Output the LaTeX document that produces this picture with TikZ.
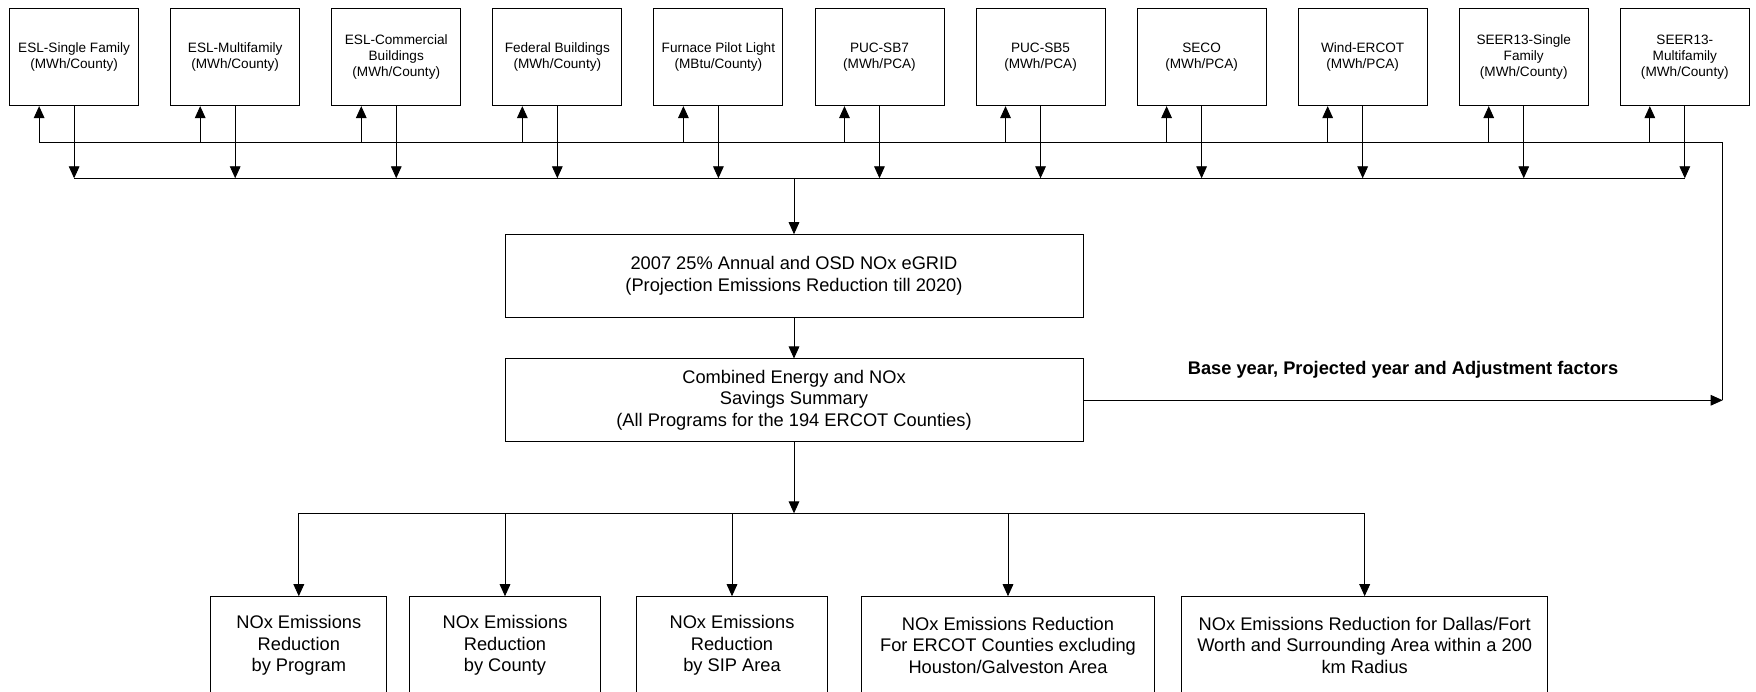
\documentclass[tikz,border=0pt]{standalone}
\usepackage{fontspec}
\setmainfont{Liberation Sans}
\usetikzlibrary{arrows.meta}

\begin{document}
\begin{tikzpicture}[->,>={Triangle[length=9pt,width=8pt]},line width=0.7pt,
  node distance=120.8pt,
  src node/.style={draw,minimum width=96.75pt,minimum height=73pt,align=center,
    font=\fontsize{10.2}{12}\selectfont},
  sum node/.style={draw,minimum width=433.5pt,minimum height=62pt,align=center,
    font=\fontsize{13.7}{16.3}\selectfont},
  out node/.style={draw,minimum height=73pt,align=center,
    font=\fontsize{13.7}{16.3}\selectfont}]
  \useasboundingbox (0,0) rectangle (1317pt,-519pt);
  % program boxes
  \node[src node] (esl_sf) at (55.6pt,-42.75pt) {ESL-Single Family\\(MWh/County)};
  \node[src node] (esl_mf) [right of=esl_sf] {ESL-Multifamily\\(MWh/County)};
  \node[src node] (esl_cb) [right of=esl_mf] {ESL-Commercial\\Buildings\\(MWh/County)};
  \node[src node] (fed_bld) [right of=esl_cb] {Federal Buildings\\(MWh/County)};
  \node[src node] (furnace) [right of=fed_bld] {Furnace Pilot Light\\(MBtu/County)};
  \node[src node] (puc_sb7) [right of=furnace] {PUC-SB7\\(MWh/PCA)};
  \node[src node] (puc_sb5) [right of=puc_sb7] {PUC-SB5\\(MWh/PCA)};
  \node[src node] (seco) [right of=puc_sb5] {SECO\\(MWh/PCA)};
  \node[src node] (wind) [right of=seco] {Wind-ERCOT\\(MWh/PCA)};
  \node[src node] (seer_sf) [right of=wind] {SEER13-Single\\Family\\(MWh/County)};
  \node[src node] (seer_mf) [right of=seer_sf] {SEER13-\\Multifamily\\(MWh/County)};
  % summary boxes
  \node[sum node] (egrid) at (595.5pt,-207pt) {2007 25\% Annual and OSD NOx eGRID\\(Projection Emissions Reduction till 2020)};
  \node[sum node] (combined) [below of=egrid,node distance=93.2pt] {Combined Energy and NOx\\Savings Summary\\(All Programs for the 194 ERCOT Counties)};
  % result boxes
  \node[out node,minimum width=131.8pt] (by_prog) at (224.1pt,-484pt) {NOx Emissions\\Reduction\\by Program};
  \node[out node,minimum width=143pt] (by_county) at (378.75pt,-484pt) {NOx Emissions\\Reduction\\by County};
  \node[out node,minimum width=143pt] (by_sip) at (549pt,-484pt) {NOx Emissions\\Reduction\\by SIP Area};
  \node[out node,minimum width=220pt] (ercot_ex) at (756pt,-484pt) {NOx Emissions Reduction\\For ERCOT Counties excluding\\Houston/Galveston Area};
  \node[out node,minimum width=274.7pt] (dfw) at (1023.5pt,-484pt) {NOx Emissions Reduction for Dallas/Fort\\Worth and Surrounding Area within a 200\\km Radius};
  \coordinate (bus_up) at (0,-107pt);
  \coordinate (bus_down) at (0,-133.7pt);
  \coordinate (bus_out) at (0,-385pt);
  \coordinate (feed_back) at (1292pt,-300.2pt);
  % bus lines
  \draw[-] (feed_back) |- ([xshift=-26.25pt]esl_sf.south |- bus_up);
  \draw[-] (esl_sf.south |- bus_down) -- (seer_mf.south |- bus_down);
  \draw[-] (by_prog.north |- bus_out) -- (dfw.north |- bus_out);
  \path
    (esl_sf.south) edge (esl_sf.south |- bus_down)
    (esl_mf.south) edge (esl_mf.south |- bus_down)
    (esl_cb.south) edge (esl_cb.south |- bus_down)
    (fed_bld.south) edge (fed_bld.south |- bus_down)
    (furnace.south) edge (furnace.south |- bus_down)
    (puc_sb7.south) edge (puc_sb7.south |- bus_down)
    (puc_sb5.south) edge (puc_sb5.south |- bus_down)
    (seco.south) edge (seco.south |- bus_down)
    (wind.south) edge (wind.south |- bus_down)
    (seer_sf.south) edge (seer_sf.south |- bus_down)
    (seer_mf.south) edge (seer_mf.south |- bus_down)
    ([xshift=-26.25pt]esl_sf.south |- bus_up) edge ([xshift=-26.25pt]esl_sf.south)
    ([xshift=-26.25pt]esl_mf.south |- bus_up) edge ([xshift=-26.25pt]esl_mf.south)
    ([xshift=-26.25pt]esl_cb.south |- bus_up) edge ([xshift=-26.25pt]esl_cb.south)
    ([xshift=-26.25pt]fed_bld.south |- bus_up) edge ([xshift=-26.25pt]fed_bld.south)
    ([xshift=-26.25pt]furnace.south |- bus_up) edge ([xshift=-26.25pt]furnace.south)
    ([xshift=-26.25pt]puc_sb7.south |- bus_up) edge ([xshift=-26.25pt]puc_sb7.south)
    ([xshift=-26.25pt]puc_sb5.south |- bus_up) edge ([xshift=-26.25pt]puc_sb5.south)
    ([xshift=-26.25pt]seco.south |- bus_up) edge ([xshift=-26.25pt]seco.south)
    ([xshift=-26.25pt]wind.south |- bus_up) edge ([xshift=-26.25pt]wind.south)
    ([xshift=-26.25pt]seer_sf.south |- bus_up) edge ([xshift=-26.25pt]seer_sf.south)
    ([xshift=-26.25pt]seer_mf.south |- bus_up) edge ([xshift=-26.25pt]seer_mf.south)
    (egrid.north |- bus_down) edge (egrid)
    (egrid) edge (combined)
    (combined) edge node[above=13pt,font=\fontsize{13.7}{16.3}\selectfont\bfseries] {Base year, Projected year and Adjustment factors} (feed_back)
    (combined) edge (combined.south |- bus_out)
    (by_prog.north |- bus_out) edge (by_prog)
    (by_county.north |- bus_out) edge (by_county)
    (by_sip.north |- bus_out) edge (by_sip)
    (ercot_ex.north |- bus_out) edge (ercot_ex)
    (dfw.north |- bus_out) edge (dfw)
;
\end{tikzpicture}
\end{document}
